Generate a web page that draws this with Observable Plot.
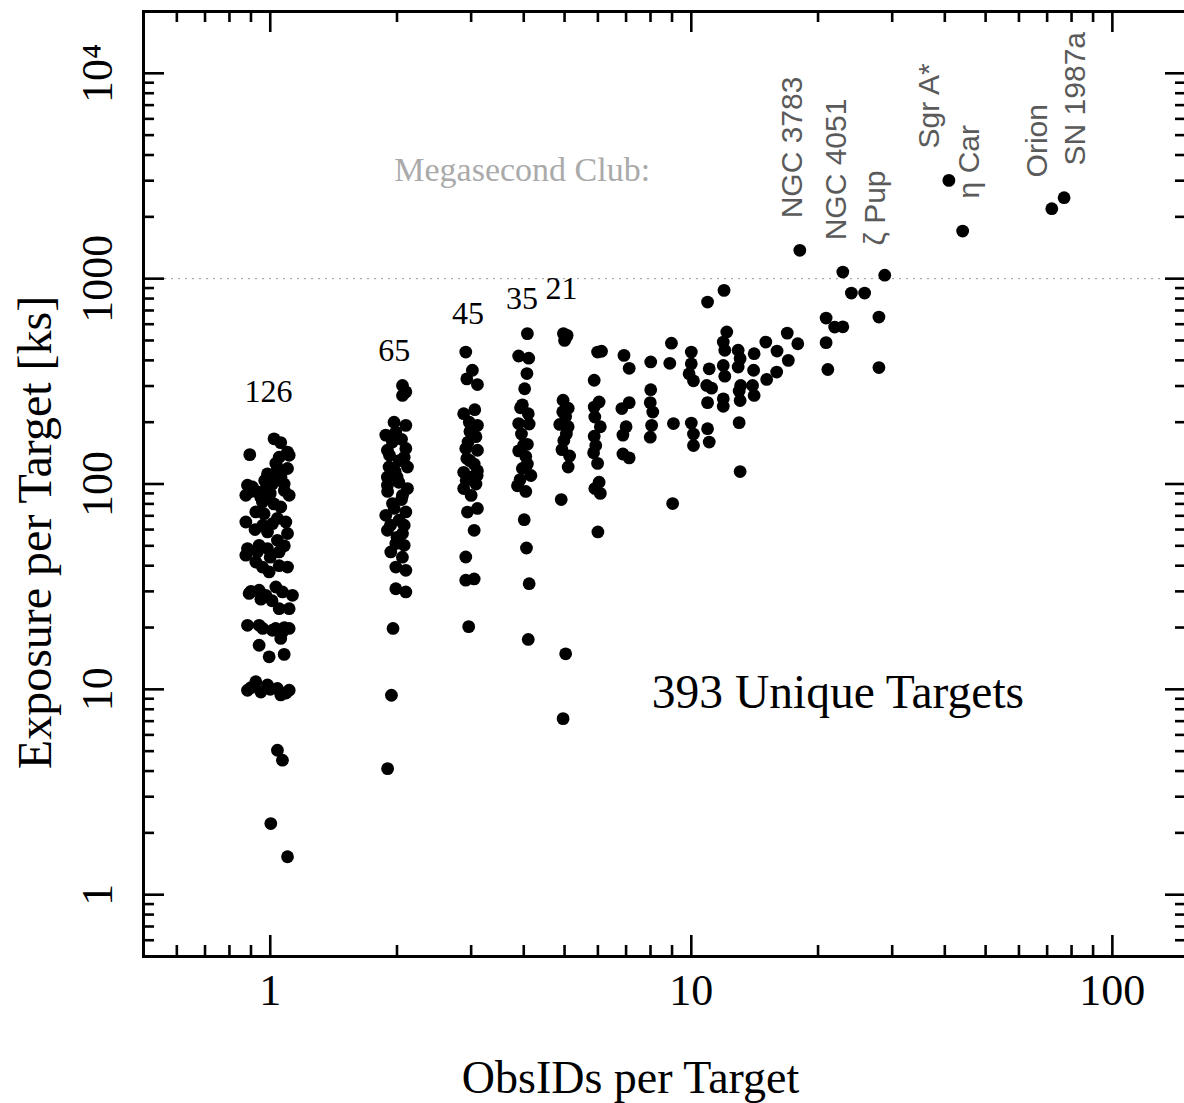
<!DOCTYPE html>
<html><head><meta charset="utf-8">
<script src="https://cdn.jsdelivr.net/npm/d3@7"></script>
<script src="https://cdn.jsdelivr.net/npm/@observablehq/plot@0.6"></script>
<style>
html,body{margin:0;padding:0;background:#fff;}
#chart svg{display:block;}
</style></head><body><div id="chart"></div>
<script>
// ---- data: [ObsIDs per target (jittered), exposure per target in ks] ----
const targets1 = [[1.021,166],[1.059,159],[0.894,139],[1.099,143],[1.109,138],[1.050,135],[1.031,126],[1.099,119],[0.985,112],[1.031,110],[0.883,98.6],[0.907,96.7],[0.875,88.1],[0.932,91.4],[0.976,95],[1.012,100],[1.079,100],[1.109,88.1],[0.958,81.7],[0.994,84.9],[1.059,77.3],[0.924,73.1],[0.967,71.7],[0.875,65.3],[1.012,64.1],[1.089,65.3],[0.985,58.4],[1.099,57.4],[1.040,53.2],[0.883,48.5],[0.941,50.3],[0.985,48.5],[0.875,45],[0.932,46.7],[1.050,46.7],[0.924,41.7],[0.958,39.4],[0.994,37.3],[1.099,39.4],[0.891,29.3],[0.941,30.4],[0.976,28.7],[1.031,31.5],[1.069,29.8],[1.129,28.7],[1.050,24.7],[1.109,24.7],[0.883,20.5],[0.941,20.5],[1.012,19.4],[1.069,19.0],[1.109,19.8],[1.059,17.7],[0.941,16.4],[0.994,14.4],[1.079,14.8],[0.883,9.9],[0.924,10.9],[0.985,10.5],[1.059,9.4],[1.109,9.9],[1.040,5.05],[1.069,4.52],[1.003,2.22],[1.099,1.53],
  [0.90,92],[0.95,86],[1.00,90],[1.02,80],[0.97,104],[1.06,108],[1.08,93],[1.04,120],[0.92,60],[0.96,63],[1.04,68],[1.08,50],[1.00,44],[0.90,30],[0.95,27.5],[1.01,27],[1.08,20],[1.03,19.8],[0.90,10.2],[0.95,9.7],[1.00,10],[1.04,10.1],[1.09,9.6],[0.96,19.8],[1.05,40]];
const targets2 = [[2.061,302],[2.099,281],[2.061,270],[1.968,200],[2.099,193],[1.881,173],[1.987,179],[1.898,146],[2.099,149],[2.023,130],[1.915,121],[2.118,121],[1.898,108],[2.00,108],[1.898,98.6],[2.118,95],[2.061,88.1],[1.951,80.3],[1.881,70.4],[2.099,73.1],[2.023,66.6],[1.898,59.5],[2.061,57.4],[1.987,51.3],[2.08,50.3],[1.933,46.7],[1.987,39.4],[2.099,38],[1.987,30.9],[2.099,29.8],[1.957,19.8],[1.94,9.36],[1.90,4.11],
  [1.95,160],[2.05,165],[1.92,138],[2.08,135],[1.98,115],[2.02,102],[1.90,92],[2.05,84],[1.97,76],[2.08,63],[1.93,63],[2.00,55],[2.06,44]];
const targets3 = [[2.913,439],[3.02,358],[2.93,325],[3.105,305],[2.88,220],[3.06,230],[2.97,200],[3.105,193],[2.98,180],[2.913,149],[3.105,146],[2.98,130],[2.88,114],[3.105,116],[2.98,108],[2.88,95],[3.08,100],[2.94,73],[3.105,76],[3.05,59.5],[2.913,44.1],[2.913,34],[3.05,34.5],[2.96,20.2],
  [2.95,160],[3.05,125],[2.92,104],[3.0,88],[3.08,170],[2.93,133],[3.1,110]];
const targets4 = [[4.08,540],[3.89,420],[4.11,410],[4.07,345],[4.02,291],[3.97,243],[3.93,235],[3.89,197],[4.12,196],[4.08,156],[3.89,145],[4.045,136],[3.97,119],[4.16,110],[3.865,98],[4.045,92],[4.01,67],[4.06,48.8],[4.12,32.7],[4.10,17.5],
  [3.95,175],[4.08,125],[3.92,105],[4.1,220],[4.0,155]];
const targets5 = [[4.97,540],[5.07,530],[5.0,500],[4.96,256],[5.1,234],[5.03,213],[4.87,195],[5.1,190],[4.98,163],[4.93,147],[5.14,137],[5.1,121],[4.91,84],[5.03,14.9],[4.96,7.2],
  [5.05,520],[4.95,225],[5.05,175]];
const targets6to9 = [[5.99,439],[6.12,443],[5.88,320],[6.04,251],[5.88,237],[5.9,212],[6.08,190],[5.88,171],[5.93,154],[5.86,142],[5.99,126],[6.04,102],[5.9,95],[6.08,90],[6.0,58.4],
  [6.92,423],[7.12,366],[6.84,233],[7.12,249],[7.0,190],[6.88,173],[6.88,140],[7.12,134],
  [8.01,393],[8.01,288],[7.99,249],[8.1,224],[8.05,193],[7.99,169],
  [8.97,485],[8.89,387],[9.07,197],[9.03,80.3]];
const targets10to17 = [[10.0,439],[10.0,385],[9.88,344],[10.12,318],[10.0,198],[10.12,175],[10.12,154],
  [10.93,769],[11.03,364],[10.88,302],[11.17,293],[10.93,249],[10.93,186],[11.03,160],
  [11.96,877],[12.14,550],[11.91,491],[12.01,448],[11.91,378],[12.01,335],[11.91,260],[11.91,239],
  [12.92,448],[13.06,408],[12.92,371],[13.1,302],[12.99,284],[13.06,255],[12.99,199],[13.06,115],
  [14.1,431],[14.06,358],[13.98,302],[14.1,270],
  [15.03,491],[15.1,323],[15.98,444],[15.95,351],[16.9,543],[17.0,400]];
const targets18plus = [[17.9,482],[18.1,1374],[20.9,643],[20.9,488],[21.1,361],[21.9,581],[22.9,583],[22.9,1077],[24.0,851],[25.8,851],[28.8,1040],[27.9,650],[27.9,369],[40.9,3010],[44.1,1705],[71.8,2192],[76.8,2479]];

// group counts shown above the first columns
const groupCounts = ["126","65","45","35","21"];
const groupCountX = [0.99, 1.97, 2.95, 3.96, 4.92];
const groupCountY = [250, 396, 600, 709, 800];

// named targets (label anchor positions)
const namedTargets = ["NGC 3783","NGC 4051","ζ Pup","Sgr A*","η Car","Orion","SN 1987a"];
const namedX = [18.3, 23.3, 28.8, 38.7, 48.2, 69.9, 86.0];
const namedY = [1966, 1537, 1452, 4307, 2460, 3113, 3561];

const megasecond = 1000;
const clubLabel = "Megasecond Club:";
const totalLabel = "393 Unique Targets";

// axes
const xDomain = [0.5, 150];
const yDomain = [0.5, 20000];
const xMajor = [1, 10, 100];
const xMajorLabels = ["1", "10", "100"];
const xMinor = [0.6,0.7,0.8,0.9,2,3,4,5,6,7,8,9,20,30,40,50,60,70,80,90];
const yMajor = [1, 10, 100, 1000, 10000];
const yMajorLabels = ["1", "10", "100", "1000", "10⁴"];
const yMinor = [0.6,0.7,0.8,0.9,2,3,4,5,6,7,8,9,20,30,40,50,60,70,80,90,200,300,400,500,600,700,800,900,2000,3000,4000,5000,6000,7000,8000,9000];

// ---- layout ----
const W = 1184, H = 1103, ML = 143, MT = 11, MB = 147, MR = -2;
const FH = H - MT - MB, FW = W - ML - MR;
const serif = "'Liberation Serif','Times New Roman',serif";
const sans = "'Liberation Sans',Arial,sans-serif";
const minorLen = 11, majorLen = 21, tickW = 2.6;

const points = [targets1, targets2, targets3, targets4, targets5, targets6to9, targets10to17, targets18plus]
  .flatMap(g => g.map(([x, y]) => ({x, y})));
const counts = groupCounts.map((t, i) => ({t, x: groupCountX[i], y: groupCountY[i]}));
const names = namedTargets.map((t, i) => ({t, x: namedX[i], y: namedY[i]}));

const chart = Plot.plot({
  width: W, height: H,
  marginLeft: ML, marginTop: MT, marginBottom: MB, marginRight: MR,
  x: {type: "log", domain: xDomain, axis: null},
  y: {type: "log", domain: yDomain, axis: null},
  style: {background: "white", overflow: "hidden"},
  marks: [
    Plot.ruleY([megasecond], {stroke: "#9a9a9a", strokeWidth: 1, strokeDasharray: "2,5"}),
    // ticks (inward, all four sides)
    Plot.ruleX(xMinor, {insetTop: FH - minorLen, stroke: "black", strokeWidth: tickW}),
    Plot.ruleX(xMajor, {insetTop: FH - majorLen, stroke: "black", strokeWidth: tickW}),
    Plot.ruleX(xMinor, {insetBottom: FH - minorLen, stroke: "black", strokeWidth: tickW}),
    Plot.ruleX(xMajor, {insetBottom: FH - majorLen, stroke: "black", strokeWidth: tickW}),
    Plot.ruleY(yMinor, {insetRight: FW - minorLen, stroke: "black", strokeWidth: tickW}),
    Plot.ruleY(yMajor, {insetRight: FW - majorLen, stroke: "black", strokeWidth: tickW}),
    Plot.ruleY(yMinor, {insetLeft: FW - minorLen, stroke: "black", strokeWidth: tickW}),
    Plot.ruleY(yMajor, {insetLeft: FW - majorLen, stroke: "black", strokeWidth: tickW}),
    Plot.frame({stroke: "black", strokeWidth: 3}),
    // tick labels
    Plot.text(xMajor, {x: d => d, text: (d, i) => xMajorLabels[i], frameAnchor: "bottom", dy: 34,
      textAnchor: "middle", lineAnchor: "middle", fontFamily: serif, fontSize: 44, fill: "black"}),
    Plot.text(yMajor, {y: d => d, text: (d, i) => yMajorLabels[i], frameAnchor: "left", dx: -45.5, rotate: -90,
      textAnchor: "middle", lineAnchor: "middle", fontFamily: serif, fontSize: 44, fill: "black"}),
    // axis titles
    Plot.text(["ObsIDs per Target"], {text: d => d, frameAnchor: "bottom", dx: -34.5, dy: 136,
      textAnchor: "middle", lineAnchor: "bottom", fontFamily: serif, fontSize: 46, fill: "black"}),
    Plot.text(["Exposure per Target [ks]"], {text: d => d, frameAnchor: "left", dx: -93, dy: 48.5, rotate: -90,
      textAnchor: "middle", lineAnchor: "bottom", fontFamily: serif, fontSize: 48, fill: "black"}),
    // data
    Plot.dot(points, {x: "x", y: "y", r: 6.4, fill: "black", stroke: "none"}),
    // annotations
    Plot.text(counts, {x: "x", y: "y", text: "t", lineAnchor: "bottom", fontFamily: serif, fontSize: 32, fill: "black"}),
    Plot.text(names, {x: "x", y: "y", text: "t", rotate: -90, textAnchor: "start", lineAnchor: "bottom",
      fontFamily: sans, fontSize: 30, fill: "#5a5a5a"}),
    Plot.text([clubLabel], {x: () => 1.97, y: () => 3000, text: d => d, textAnchor: "start", lineAnchor: "bottom",
      fontFamily: serif, fontSize: 34, fill: "#aaaaaa"}),
    Plot.text([totalLabel], {x: () => 8.06, y: () => 8.09, text: d => d, textAnchor: "start", lineAnchor: "bottom",
      fontFamily: serif, fontSize: 47.5, fill: "black"})
  ]
});
document.getElementById("chart").appendChild(chart);
</script></body></html>
